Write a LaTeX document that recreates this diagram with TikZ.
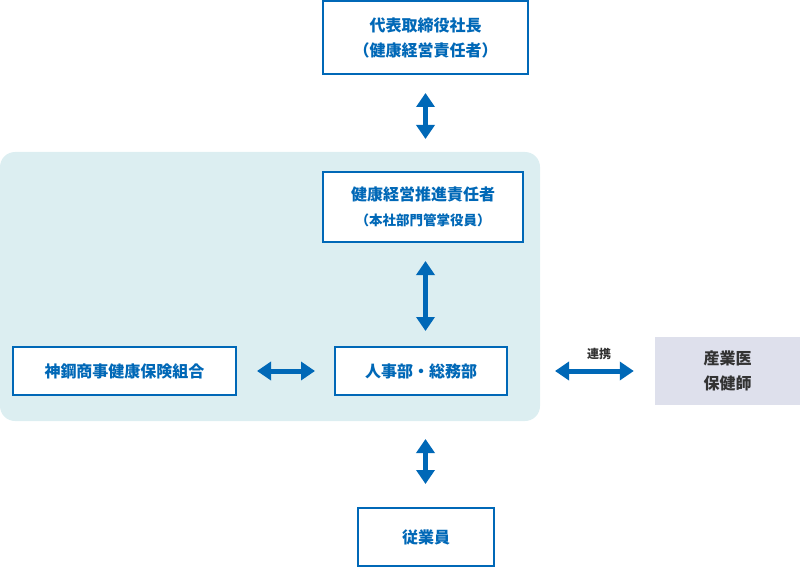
\documentclass[tikz,border=0pt]{standalone}
\usepackage{fontspec}
\setmainfont{Noto Sans CJK JP}
\usepackage{xcolor}
\usepackage{tikz}
\usetikzlibrary{shapes,arrows, positioning, arrows.meta}

\definecolor{azul}{HTML}{0068B7}
\definecolor{fondo}{HTML}{DCEEF1}
\definecolor{grisfondo}{HTML}{DEE0EC}
\definecolor{gristexto}{HTML}{333333}

\tikzset{
  caja/.style={draw=azul, line width=2pt, fill=white, text=azul, font=\bfseries\fontsize{16}{25}\selectfont, align=center, inner sep=0pt},
  cajagris/.style={fill=grisfondo, text=gristexto, font=\bfseries\fontsize{16}{25}\selectfont, align=center, inner sep=0pt},
  flecha/.style={azul, line width=5pt, {Triangle[width=18pt,length=14pt]}-{Triangle[width=18pt,length=14pt]}}
}

\begin{document}
\begin{tikzpicture}[x=1pt,y=-1pt]
        \useasboundingbox (0,0) rectangle (801,567);
        % Fondo de la zona de la empresa
        \fill[fondo, rounded corners=15pt] (0,152) rectangle (540,421);
        % Cajas
        \node[caja, minimum width=205pt, minimum height=73pt] (presidente) at (425.5,37.5) {代表取締役社長\\（健康経営責任者）};
        \node[caja, minimum width=200pt, minimum height=70pt] (promotor) at (423,207) {健康経営推進責任者\\{\fontsize{13.5}{16}\selectfont （本社部門管掌役員）}};
        \node[caja, minimum width=172pt, minimum height=48pt] (jinji) at (421,371) {人事部・総務部};
        \node[caja, minimum width=223pt, minimum height=48pt] (kumiai) at (124.5,371) {神鋼商事健康保険組合};
        \node[cajagris, minimum width=145pt, minimum height=68pt] (sangyoi) at (727.5,371) {産業医\\保健師};
        \node[caja, minimum width=136pt, minimum height=58pt] (jugyoin) at (426,537) {従業員};
        % Flechas
        \draw[flecha, shorten <=18pt, shorten >=32pt] (presidente.south) -- (presidente.south |- promotor.north);
        \draw[flecha, shorten <=18pt, shorten >=15pt] (presidente.south |- promotor.south) -- (presidente.south |- jinji.north);
        \draw[flecha, shorten <=20pt, shorten >=19pt] (kumiai.east) -- (jinji.west);
        \draw[flecha, shorten <=47pt, shorten >=21pt] (jinji.east) -- node[pos=0.62, above=5pt, text=gristexto, font=\bfseries\fontsize{12}{14}\selectfont] (renkei) {連携} (sangyoi.west);
        \draw[flecha, shorten <=43pt, shorten >=23pt] (presidente.south |- jinji.south) -- (presidente.south |- jugyoin.north);
\end{tikzpicture}
\end{document}
